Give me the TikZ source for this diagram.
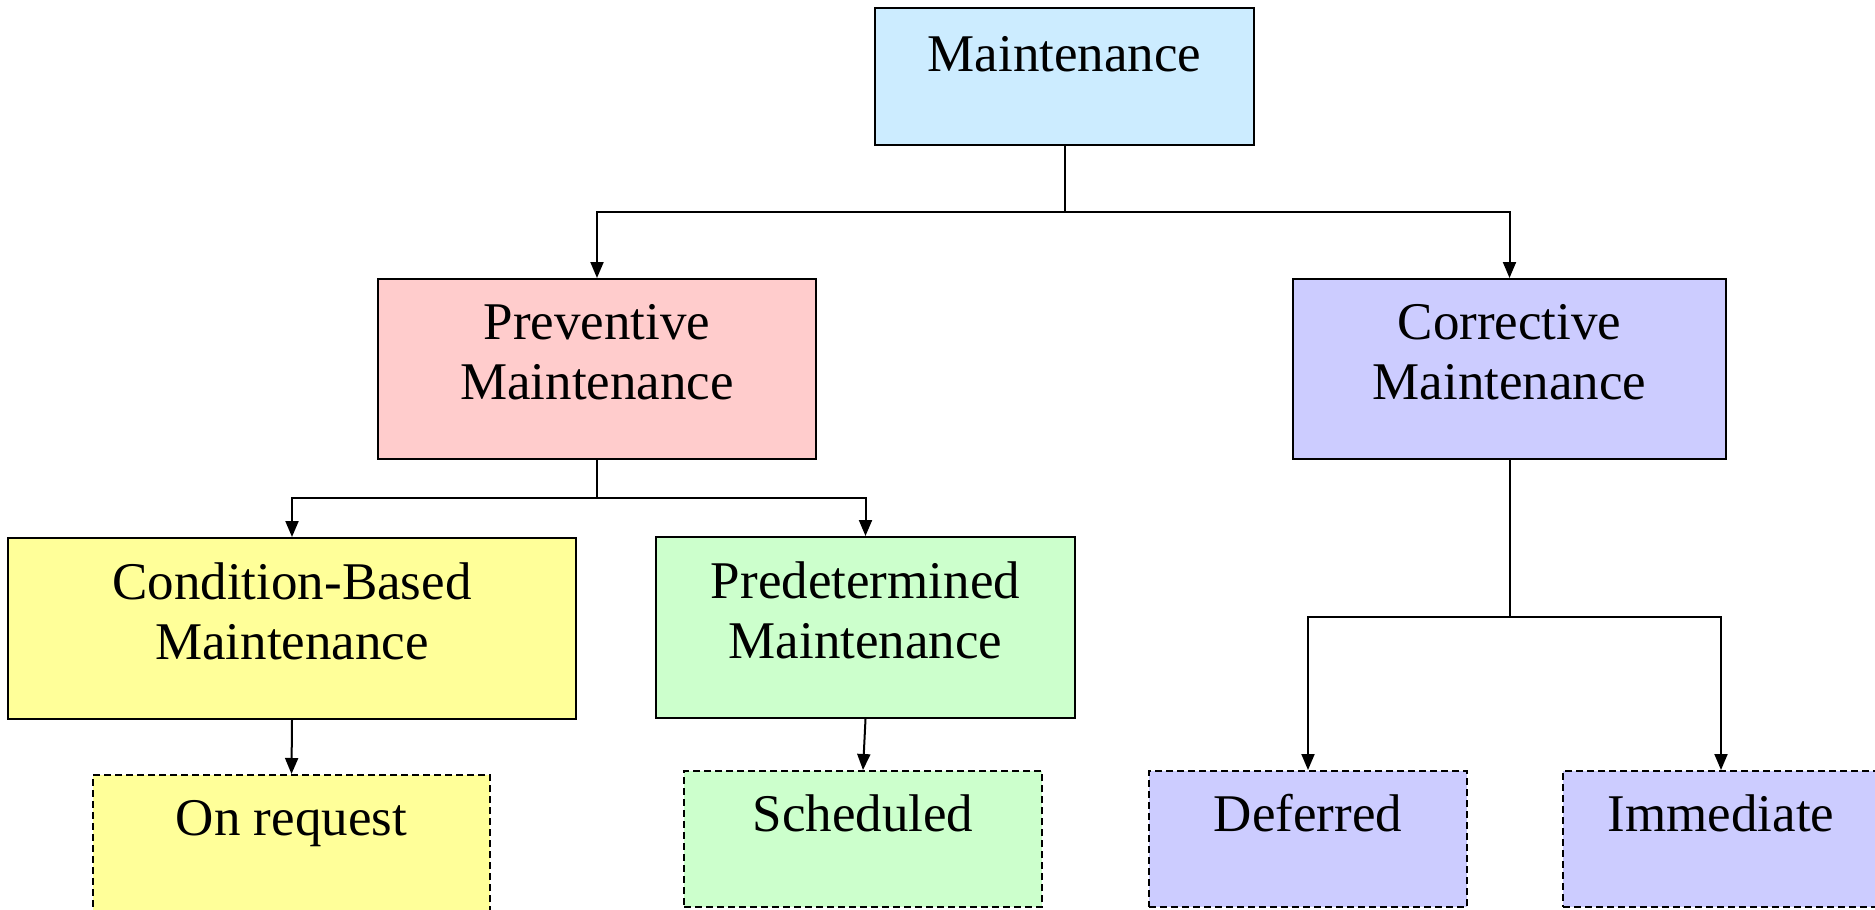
\documentclass[tikz,border=0pt]{standalone}
\usepackage{fontspec}
\setmainfont{Liberation Serif}
\usetikzlibrary{arrows.meta}
\definecolor{cBlue}{HTML}{CCECFF}
\definecolor{cPink}{HTML}{FFCCCC}
\definecolor{cViolet}{HTML}{CCCCFF}
\definecolor{cYellow}{HTML}{FFFF99}
\definecolor{cGreen}{HTML}{CCFFCC}
\tikzset{
  box/.style={rectangle, draw=black, line width=2pt, inner sep=0pt},
  dbox/.style={box, dash pattern=on 7pt off 4pt},
  lbl/.style={anchor=base, align=center, inner sep=0pt,
    font=\fontsize{53}{60}\selectfont},
  conn/.style={line width=2pt, -{Triangle[length=16pt,width=13pt]}},
}
\begin{document}
\begin{tikzpicture}[x=1pt,y=-1pt]
\useasboundingbox (0,0) rectangle (1875,910);
\begin{scope}
\clip (0,0) rectangle (1875,910);
% boxes
\node[box, fill=cBlue, minimum width=379pt, minimum height=137pt] (m) at (1064.5,76.5) {};
\node[box, fill=cPink, minimum width=438pt, minimum height=180pt] (p) at (597,369) {};
\node[box, fill=cViolet, minimum width=433pt, minimum height=180pt] (c) at (1509.5,369) {};
\node[box, fill=cYellow, minimum width=568pt, minimum height=181pt] (cb) at (292,628.5) {};
\node[box, fill=cGreen, minimum width=419pt, minimum height=181pt] (pd) at (865.5,627.5) {};
\node[dbox, fill=cYellow, minimum width=397pt, minimum height=137pt] (or) at (291.5,843.5) {};
\node[dbox, fill=cGreen, minimum width=358pt, minimum height=136pt] (sc) at (863,839) {};
\node[dbox, fill=cViolet, minimum width=318pt, minimum height=136pt] (df) at (1308,839) {};
\node[dbox, fill=cViolet, minimum width=316pt, minimum height=136pt] (im) at (1721,839) {};
% labels (base = last line)
\node[lbl] (tm) at ([yshift=-64pt]m.north) {Maintenance};
\node[lbl] (tp) at ([yshift=-121pt]p.north) {Preventive\\Maintenance};
\node[lbl] (tc) at ([yshift=-121pt]c.north) {Corrective\\Maintenance};
\node[lbl] (tcb) at ([yshift=-122pt]cb.north) {Condition-Based\\Maintenance};
\node[lbl] (tpd) at ([yshift=-122pt]pd.north) {Predetermined\\Maintenance};
\node[lbl] (tor) at ([yshift=-61pt]or.north) {On request};
\node[lbl] (tsc) at ([yshift=-61pt]sc.north) {Scheduled};
\node[lbl] (tdf) at ([yshift=-61pt]df.north) {Deferred};
\node[lbl] (tim) at ([yshift=-61pt]im.north) {Immediate};
% connectors
\draw[conn] (m.south) -- ++(0,66) -| (p.north);
\draw[conn] (m.south) -- ++(0,66) -| (c.north);
\draw[conn] (p.south) -- ++(0,38) -| (cb.north);
\draw[conn] (p.south) -- ++(0,38) -| (pd.north);
\draw[conn] (cb.south) -- (or.north);
\draw[conn] (pd.south) -- (sc.north);
\draw[conn] (c.south) -- ++(0,157) -| (df.north);
\draw[conn] (c.south) -- ++(0,157) -| (im.north);
\end{scope}
\end{tikzpicture}
\end{document}
